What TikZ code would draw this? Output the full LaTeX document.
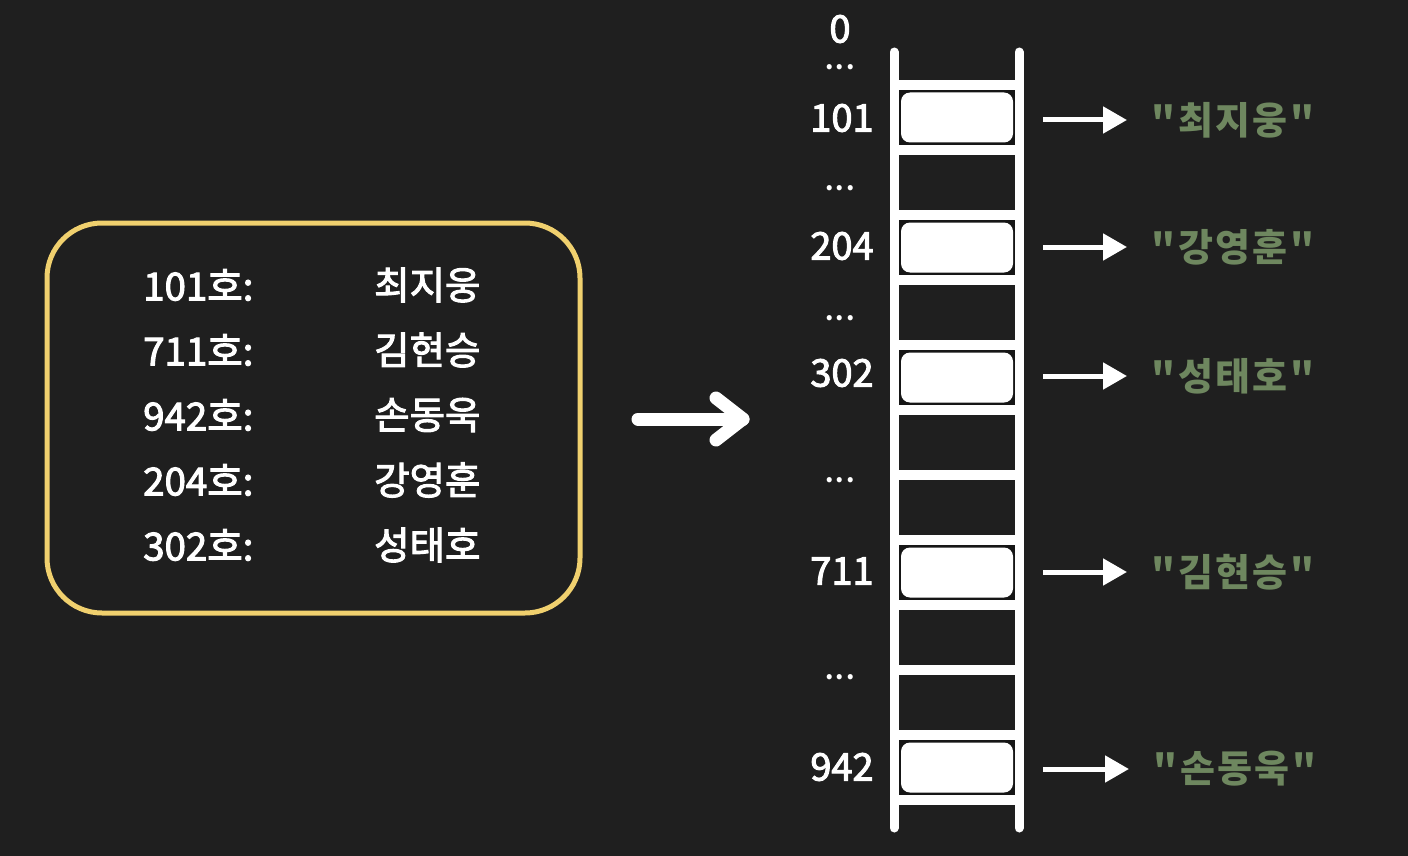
\documentclass[tikz,border=0pt]{standalone}
\usepackage{fontspec}
\setmainfont{Noto Sans CJK KR}
\newfontfamily\cjk{Noto Sans CJK KR}
\newfontfamily\cjkw[FakeBold=2.6]{Noto Sans CJK KR}
\usetikzlibrary{arrows.meta}
\definecolor{bg}{RGB}{31,31,31}
\definecolor{cellbg}{RGB}{22,22,22}
\definecolor{gold}{RGB}{240,208,110}
\definecolor{sage}{RGB}{110,135,95}
\tikzset{
  railline/.style={line width=9pt, white, line cap=round},
  rungline/.style={line width=10pt, white},
  slot/.style={draw=none, fill=white, rounded corners=9pt, minimum width=112pt, minimum height=50pt, inner sep=0pt},
  idx/.style={text=white, font=\cjkw\fontsize{38}{44}\selectfont, inner sep=0pt, anchor=center},
  dots/.style={text=white, font=\cjk\bfseries\fontsize{24}{26}\selectfont, inner sep=0pt},
  val/.style={text=sage, font=\cjk\bfseries\fontsize{38}{44}\selectfont, inner sep=0pt, anchor=west},
  rowtxt/.style={text=white, font=\cjkw\fontsize{38.5}{44}\selectfont, inner sep=0pt, anchor=west},
  sarrow/.style={line width=5pt, white, -{Triangle[length=24pt,width=26pt]}},
}
\newcommand{\dotsrow}{.\kern2pt.\kern2pt.}
\begin{document}
\begin{tikzpicture}[x=1pt,y=-1pt]
\fill[bg] (0,0) rectangle (1408,856);
\useasboundingbox (0,0) rectangle (1408,856);

% table box
\node[draw=gold, line width=5pt, rounded corners=55pt, minimum width=533pt, minimum height=390pt, inner sep=0pt] (tbl) at (313.5,418) {};
\foreach \k/\num/\nm [count=\i from 0] in {101/101호:/최지웅, 711/711호:/김현승, 942/942호:/손동욱, 204/204호:/강영훈, 302/302호:/성태호}{
  \node[rowtxt] (r\k) at (143,{285+65*\i}) {\num};
  \node[rowtxt] (n\k) at (374,{285+65*\i}) {\nm};
}

% big arrow
\coordinate (ba1) at (638,419);
\coordinate (ba2) at (743,419);
\draw[white, line width=13pt, line cap=round] (ba1) -- (ba2);
\draw[white, line width=13pt, line cap=round, line join=round] (716,398) -- (ba2) -- (716,440);

% ladder cells backgrounds for filled slots
\foreach \c in {0,2,4,7,10}{
  \fill[cellbg] (898,{90+65*\c}) rectangle (1015,{145+65*\c});
}
% rails
\draw[railline] (894,52) -- (894,828);
\draw[railline] (1019,52) -- (1019,828);
% rungs
\foreach \r in {0,...,11}{
  \draw[rungline] (894,{85+65*\r}) -- (1019,{85+65*\r});
}
% slots
\node[slot] (s101) at (957,117.5) {};
\node[slot] (s204) at (957,247.5) {};
\node[slot] (s302) at (957,377.5) {};
\node[slot] (s711) at (957,572.5) {};
\node[slot] (s942) at (957,767.5) {};

% index labels
\node[idx] (i0) at (840,29) {0};
\node[dots] (d0) at (840,67) {\dotsrow};
\node[idx] (i101) at (842,118) {101};
\node[dots] (d1) at (840,188) {\dotsrow};
\node[idx] (i204) at (842,246) {204};
\node[dots] (d2) at (840,318) {\dotsrow};
\node[idx] (i302) at (842,373) {302};
\node[dots] (d3) at (840,480) {\dotsrow};
\node[idx] (i711) at (842,571) {711};
\node[dots] (d4) at (840,677) {\dotsrow};
\node[idx] (i942) at (842,767) {942};

% values
\node[val] (v101) at (1151,120) {"\kern3pt 최\kern2pt 지\kern2pt 웅\kern3pt "};
\node[val] (v204) at (1151,247) {"\kern3pt 강\kern2pt 영\kern2pt 훈\kern3pt "};
\node[val] (v302) at (1151,376) {"\kern3pt 성\kern2pt 태\kern2pt 호\kern3pt "};
\node[val] (v711) at (1151,572) {"\kern3pt 김\kern2pt 현\kern2pt 승\kern3pt "};
\node[val] (v942) at (1153,769) {"\kern3pt 손\kern2pt 동\kern2pt 욱\kern3pt "};

% arrows
\foreach \k in {101,204,302,711,942}{
  \draw[sarrow, shorten <=30pt, shorten >=24pt] (s\k.east |- v\k.west) -- (v\k.west);
}
\end{tikzpicture}
\end{document}
